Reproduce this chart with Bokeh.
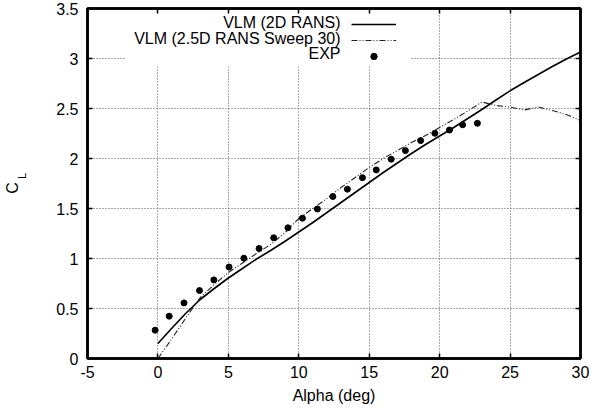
import math
from bokeh.plotting import figure
from bokeh.models import (Range1d, FixedTicker, CustomJSTickFormatter, LinearAxis,
                          Legend, LegendItem, Label, BoxAnnotation)
from bokeh.embed import file_html
from bokeh.resources import INLINE
from bokeh.core.properties import value

# ---- data ----
x_ticks = [-5, 0, 5, 10, 15, 20, 25, 30]
y_ticks = [0, 0.5, 1, 1.5, 2, 2.5, 3, 3.5]

series_names = ["VLM (2D RANS)", "VLM (2.5D RANS Sweep 30)", "EXP"]

alpha_2d = [0, 1, 2, 3, 4, 5, 6, 7, 8, 9, 10, 11, 12, 13, 14, 15,
            16, 17, 18, 19, 20, 21, 22, 23, 24, 25, 26, 27, 28, 29, 30]
cl_2d = [0.15, 0.305, 0.455, 0.59, 0.70, 0.805, 0.90, 0.995, 1.08, 1.17, 1.265,
         1.36, 1.46, 1.56, 1.66, 1.76, 1.86, 1.955, 2.05, 2.14, 2.225, 2.31,
         2.40, 2.49, 2.585, 2.677, 2.76, 2.84, 2.92, 2.995, 3.065]

alpha_25d = [0, 1, 2, 3, 4, 5, 6, 7, 8, 9, 10, 11, 12, 13, 14, 15,
             16, 17, 18, 19, 20, 21, 22, 23, 24, 25, 26, 27, 28, 29, 30]
cl_25d = [0.0, 0.20, 0.41, 0.61, 0.74, 0.86, 0.955, 1.05, 1.14, 1.255, 1.40,
          1.50, 1.60, 1.71, 1.81, 1.91, 2.00, 2.08, 2.16, 2.23, 2.31, 2.39,
          2.475, 2.565, 2.53, 2.515, 2.485, 2.515, 2.48, 2.44, 2.38]

alpha_exp = [-0.2, 0.8, 1.85, 2.95, 3.97, 5.05, 6.1, 7.18, 8.22, 9.23, 10.26,
             11.32, 12.42, 13.45, 14.52, 15.5, 16.56, 17.57, 18.65, 19.66,
             20.7, 21.63, 22.68]
cl_exp = [0.283, 0.423, 0.556, 0.68, 0.786, 0.915, 1.003, 1.10, 1.207, 1.307,
          1.403, 1.495, 1.62, 1.693, 1.808, 1.886, 1.993, 2.079, 2.179, 2.252,
          2.285, 2.337, 2.352]

FONT = "Liberation Sans"
FS = "16px"
NB = "\u00a0"

p = figure(width=597, height=412, output_backend="svg", toolbar_location=None,
           x_range=Range1d(-5, 30), y_range=Range1d(0, 3.5),
           min_border_left=87, min_border_right=17, min_border_top=8,
           min_border_bottom=54)
p.background_fill_color = "white"
p.border_fill_color = "white"
p.outline_line_color = "black"
p.outline_line_width = 2.5

fmt = CustomJSTickFormatter(code="return tick.toString()")
blank = CustomJSTickFormatter(code="return ''")

for ax, ticks in ((p.xaxis[0], x_ticks), (p.yaxis[0], y_ticks)):
    ax.ticker = FixedTicker(ticks=ticks)
    ax.formatter = fmt
    ax.major_label_text_font = FONT
    ax.major_label_text_font_size = FS
    ax.major_label_text_color = "black"
    ax.major_tick_in = 5
    ax.major_tick_out = 0
    ax.major_tick_line_width = 1.5
    ax.minor_tick_line_color = None
    ax.axis_line_width = 2.5
    ax.axis_line_color = "black"
p.xaxis.major_label_standoff = 7
p.yaxis.major_label_standoff = 9

p.xaxis.axis_label = "Alpha (deg)"
p.xaxis.axis_label_text_font = FONT
p.xaxis.axis_label_text_font_size = FS
p.xaxis.axis_label_text_font_style = "normal"
p.xaxis.axis_label_text_color = "black"
p.xaxis.axis_label_standoff = 6

# y-axis title C_L : subscript "L" next to the axis, "C" further out
def label_axis(text, size, standoff):
    a = LinearAxis(ticker=FixedTicker(ticks=[]), axis_line_color=None,
                   major_tick_line_color=None, minor_tick_line_color=None,
                   formatter=blank, major_label_text_font_size="1px",
                   axis_label=text, axis_label_text_font=FONT,
                   axis_label_text_font_size=size, axis_label_text_font_style="normal",
                   axis_label_text_color="black", axis_label_standoff=standoff)
    p.add_layout(a, "left")
    return a

label_axis(NB * 5 + "L", "11px", 26)
label_axis("C" + NB * 2, FS, -8)

# mirror ticks
top = LinearAxis(ticker=FixedTicker(ticks=x_ticks), formatter=blank,
                 major_label_text_font_size="1px",
                 major_tick_in=5, major_tick_out=0, minor_tick_line_color=None,
                 major_label_standoff=0, axis_line_width=2.5, major_tick_line_width=1.5)
right = LinearAxis(ticker=FixedTicker(ticks=y_ticks), formatter=blank,
                   major_label_text_font_size="1px",
                   major_tick_in=5, major_tick_out=0, minor_tick_line_color=None,
                   major_label_standoff=0, axis_line_width=2.5, major_tick_line_width=1.5)
p.add_layout(top, "above")
p.add_layout(right, "right")

for g, ticks in ((p.xgrid[0], x_ticks), (p.ygrid[0], y_ticks)):
    g.ticker = FixedTicker(ticks=ticks)
    g.grid_line_color = "#555555"
    g.grid_line_dash = "1 2"
    g.grid_line_width = 1

# white key box (screen units are relative to the frame, y from bottom)
box = BoxAnnotation(left=38, right=323, top=348.5, bottom=292,
                    left_units="screen", right_units="screen",
                    top_units="screen", bottom_units="screen",
                    fill_color="white", fill_alpha=1.0, line_color=None,
                    level="underlay")
p.add_layout(box)

r2d = p.line(alpha_2d, cl_2d, line_color="black", line_width=1.6)
r25 = p.line(alpha_25d, cl_25d, line_color="#222222", line_width=1.1,
             line_dash="6 2 1 2 1 2")
rexp = p.scatter(alpha_exp, cl_exp, size=6, marker="circle",
                 fill_color="black", line_color="black")

legend = Legend(items=[LegendItem(label=value(""), renderers=[r])
                       for r in (r2d, r25, rexp)],
                location=(264, 294), glyph_width=45, glyph_height=16,
                label_width=0, label_height=16, label_standoff=0,
                spacing=0, padding=4, margin=0,
                border_line_color=None, background_fill_color="white",
                background_fill_alpha=1.0)
p.add_layout(legend)

row_y = [336.3, 320.3, 304.7]
for name, yy in zip(series_names, row_y):
    p.add_layout(Label(x=253, y=yy, x_units="screen", y_units="screen",
                       text=name, text_align="right", text_baseline="middle",
                       text_font=FONT, text_font_size=FS, text_color="black"))

open("out.html", "w").write(file_html(p, INLINE))
